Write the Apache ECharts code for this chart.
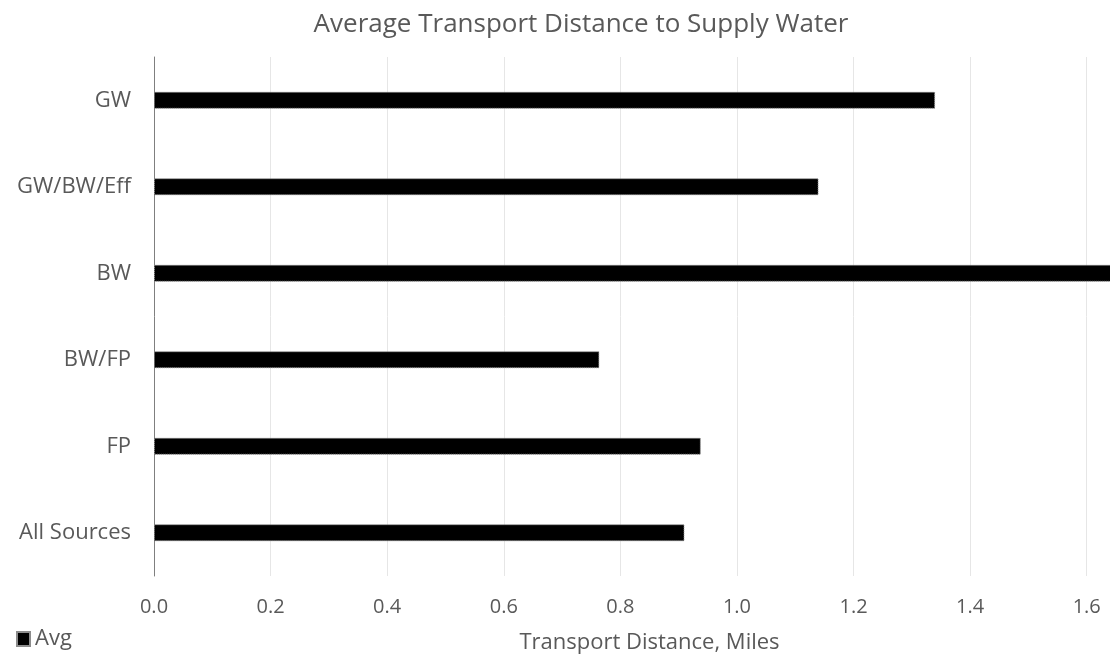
<!DOCTYPE html>
<html>
<head>
<meta charset="utf-8">
<title>Average Transport Distance to Supply Water</title>
<script src="https://cdn.jsdelivr.net/npm/echarts@6/dist/echarts.min.js"></script>
<style>
  html, body { margin: 0; padding: 0; background: #ffffff; }
  #chart { width: 1110px; height: 658px; }
</style>
</head>
<body>
<div id="chart"></div>
<script>
// Water source groups, listed top to bottom
const categories = ['GW', 'GW/BW/Eff', 'BW', 'BW/FP', 'FP', 'All Sources'];
// Average transport distance (miles) for each group
const avgMiles = [1.34, 1.14, 1.68, 0.764, 0.938, 0.91];
// Distance axis range and step
const axisMin = 0;
const axisMax = 1.7;
const axisStep = 0.2;

const textColor = '#595959';
const fontFamily = '"Open Sans", "Noto Sans", sans-serif';

const chart = echarts.init(document.getElementById('chart'), null, { renderer: 'canvas' });

chart.setOption({
  animation: false,
  backgroundColor: '#ffffff',
  textStyle: { fontFamily: fontFamily },
  title: {
    text: 'Average Transport Distance to Supply Water',
    left: 581,
    top: 12,
    textAlign: 'center',
    padding: 0,
    textStyle: { color: textColor, fontSize: 26, fontWeight: 'normal', fontFamily: fontFamily }
  },
  legend: {
    left: 16,
    bottom: 8,
    padding: 0,
    icon: 'rect',
    itemWidth: 13,
    itemHeight: 14,
    itemGap: 6,
    textStyle: { color: textColor, fontSize: 22, fontFamily: fontFamily },
    data: ['Avg']
  },
  grid: {
    left: 154,
    right: -35,
    top: 57,
    bottom: 82,
    outerBoundsMode: 'none',
    containLabel: false
  },
  xAxis: {
    type: 'value',
    min: axisMin,
    max: axisMax,
    interval: axisStep,
    name: 'Transport Distance, Miles',
    nameLocation: 'middle',
    nameGap: 56,
    nameTextStyle: { color: textColor, fontSize: 22, fontFamily: fontFamily },
    axisLine: { show: false },
    axisTick: { show: false },
    axisLabel: {
      color: textColor,
      fontSize: 20,
      margin: 21,
      showMaxLabel: false,
      fontFamily: fontFamily,
      formatter: function (v) { return v.toFixed(1); }
    },
    splitLine: { show: true, lineStyle: { color: '#e6e6e6', width: 1 } }
  },
  yAxis: {
    type: 'category',
    data: categories,
    inverse: true,
    axisLine: { show: true, lineStyle: { color: '#7f7f7f', width: 1 } },
    axisTick: { show: false },
    axisLabel: { color: textColor, fontSize: 22, margin: 23, fontFamily: fontFamily },
    splitLine: { show: false }
  },
  series: [{
    name: 'Avg',
    type: 'bar',
    data: avgMiles,
    barWidth: 17,
    itemStyle: {
      color: '#000000',
      borderColor: '#8c8c8c',
      borderWidth: 1,
      borderType: 'dotted'
    }
  }]
});
</script>
</body>
</html>
